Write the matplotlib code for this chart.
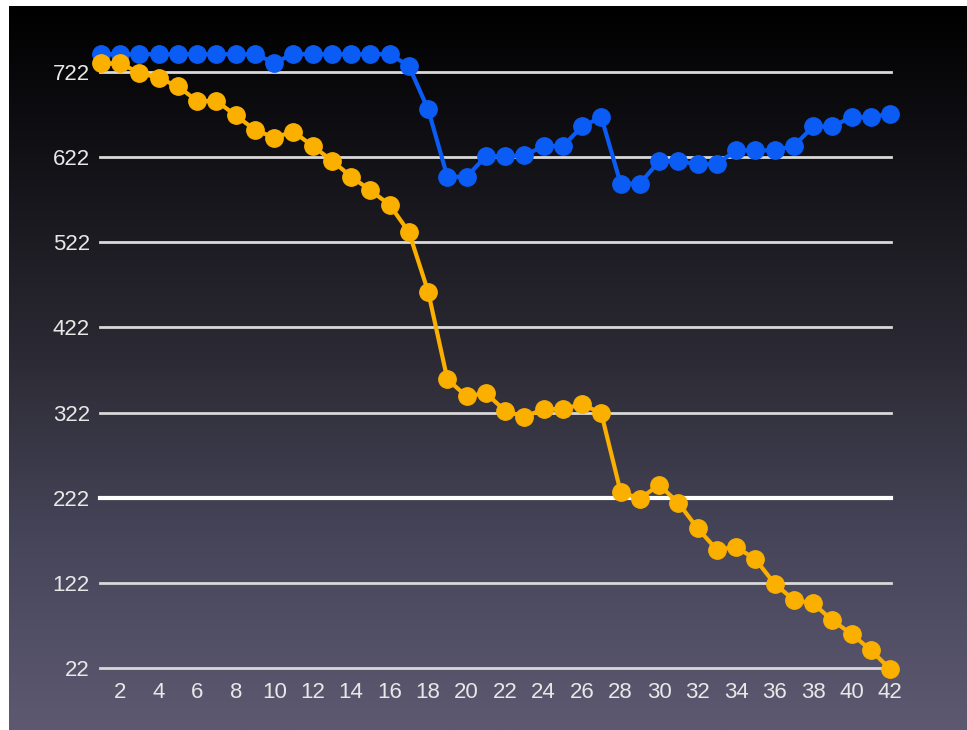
import numpy as np
import matplotlib.pyplot as plt
from matplotlib.colors import LinearSegmentedColormap

plt.rcParams['font.family'] = ['Liberation Sans', 'DejaVu Sans']

# data
x_vals = list(range(1, 43))
blue_vals = [743, 743, 743, 743, 743, 743, 743, 743, 743, 733,
             743, 743, 743, 743, 743, 743, 729, 678, 599, 599,
             623, 623, 624, 635, 635, 658, 669, 591, 591, 617,
             617, 614, 614, 630, 630, 630, 635, 658, 658, 669,
             669, 673]
orange_vals = [732, 732, 721, 715, 705, 688, 688, 671, 654, 645,
               652, 635, 618, 599, 583, 566, 534, 464, 361, 341,
               345, 324, 317, 326, 326, 332, 321, 229, 221, 237,
               216, 186, 161, 164, 150, 121, 102, 98, 78, 62,
               43, 21]
y_ticks = [22, 122, 222, 322, 422, 522, 622, 722]
x_ticks = list(range(2, 43, 2))

W, H = 967, 730
fig = plt.figure(figsize=(W / 100, H / 100), dpi=100)
fig.patch.set_facecolor('white')

# gradient background panel
bg = fig.add_axes([9 / W, 0, 1 - 9 / W, (H - 6) / H])
cmap = LinearSegmentedColormap.from_list(
    'bg', ['#000000', '#16151b', '#2d2c36', '#48465b', '#5c5971'])
grad = np.linspace(0, 1, 256).reshape(-1, 1)
bg.imshow(grad, aspect='auto', cmap=cmap, extent=[0, 1, 0, 1], origin='upper')
bg.set_axis_off()

# plot area
x0, x1 = 101, 890
y_top, y_bot = 72, 668
ax = fig.add_axes([x0 / W, (H - y_bot) / H, (x1 - x0) / W, (y_bot - y_top) / H])
ax.patch.set_alpha(0)
ax.set_xlim(1, 42)
ax.set_ylim(22, 722)

for t in y_ticks:
    if t == 222:
        ax.plot([0.95, 42.05], [t, t], color='white', lw=3, zorder=1, clip_on=False)
    else:
        ax.plot([0.95, 42.05], [t, t], color='#d9d9d9', lw=2, zorder=1, clip_on=False)

ax.plot(x_vals, blue_vals, color='#0a5cf5', lw=3, marker='o', ms=12.5,
        zorder=3, clip_on=False)
ax.plot(x_vals, orange_vals, color='#fbb000', lw=3, marker='o', ms=12.5,
        zorder=4, clip_on=False)

ax.set_yticks(y_ticks)
ax.set_xticks(x_ticks)
ax.tick_params(axis='both', length=0, labelsize=16, labelcolor='#e8e8e8')
ax.tick_params(axis='y', pad=8)
ax.tick_params(axis='x', pad=10)
for s in ax.spines.values():
    s.set_visible(False)

fig.savefig('out.png', dpi=100)
